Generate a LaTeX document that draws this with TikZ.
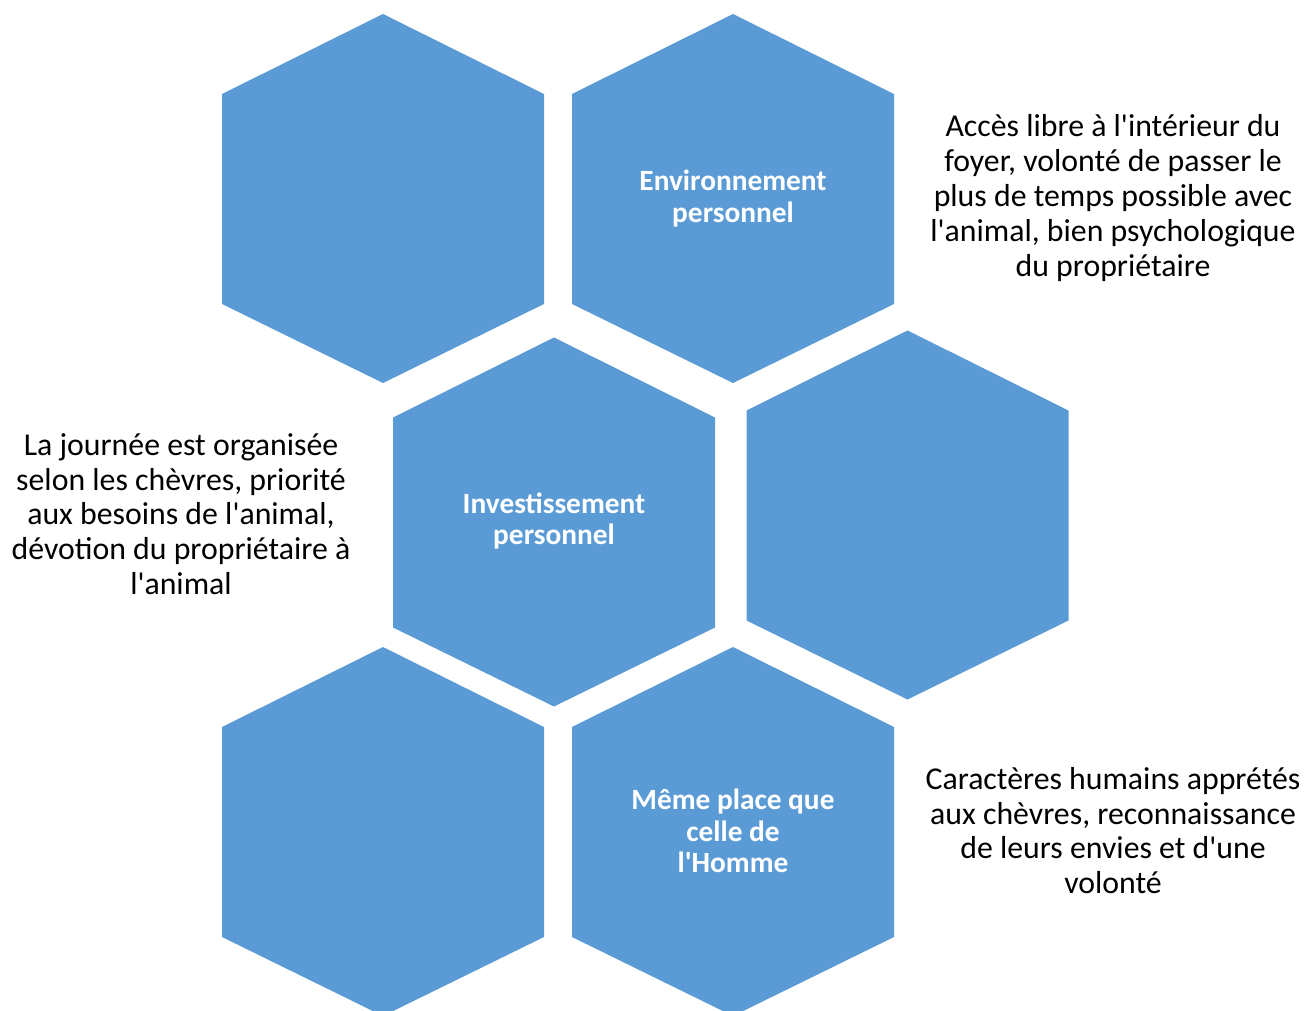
\documentclass[tikz,border=0pt]{standalone}
\usepackage{fontspec}
\setmainfont{Carlito}
\usetikzlibrary{positioning}
\definecolor{hexblue}{HTML}{5B9BD5}

\tikzset{
  pics/hexa/.style={code={
    \fill[hexblue] (0,-184.5) -- (161,-104.5) -- (161,105.5) -- (0,184.5)
      -- (-161,105.5) -- (-161,-104.5) -- cycle;
  }},
  hexlabel/.style={text=white,font=\fontsize{16.7}{18.1}\selectfont\bfseries,align=center},
  sidetext/.style={text=black,font=\fontsize{18.1}{19.8}\selectfont,align=center}
}
\newcommand{\apos}{\textquotesingle}

\begin{document}
\begin{tikzpicture}[x=0.02cm,y=-0.02cm]
  \useasboundingbox (0,0) rectangle (1306,1011);
  \clip (0,0) rectangle (1306,1011);
  % hexagons
  \pic at (383,198.5) {hexa};
  \pic at (733,198.5) {hexa};
  \pic at (554,522) {hexa};
  \pic at (907.5,515) {hexa};
  \pic at (383,831.5) {hexa};
  \pic at (733,831.5) {hexa};
  % labels inside
  \node[hexlabel] (env) at (733,198.5) {Environnement\\personnel};
  \node[hexlabel] (invest) at (554,521) {Investissement\\personnel};
  \node[hexlabel] (meme) at (733,831) {Même place que\\celle de\\l\apos Homme};
  % texts beside
  \node[sidetext] (foyer) at (1113,198) {Accès libre à l\apos intérieur du\\foyer, volonté de passer le\\plus de temps possible avec\\l\apos animal, bien psychologique\\du propriétaire};
  \node[sidetext] (journee) at (181,514) {La journée est organisée\\selon les chèvres, priorité\\aux besoins de l\apos animal,\\dévotion du propriétaire à\\l\apos animal};
  \node[sidetext] (carac) at (1113,830.5) {Caractères humains apprétés\\aux chèvres, reconnaissance\\de leurs envies et d\apos une\\volonté};
\end{tikzpicture}
\end{document}
